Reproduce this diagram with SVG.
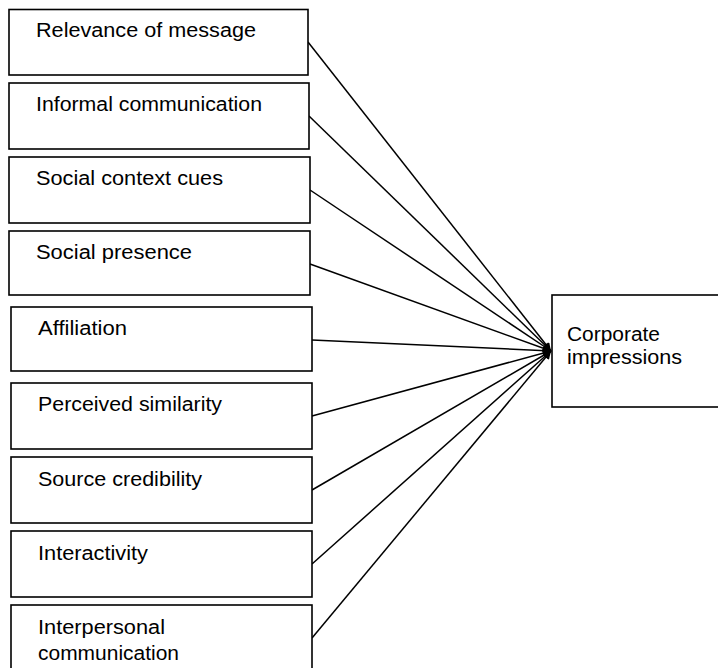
<svg xmlns="http://www.w3.org/2000/svg" width="718" height="668" viewBox="0 0 718 668">
<style>
.box{fill:#fff;stroke:#000;stroke-width:1.6}
.t{font-family:"Liberation Sans",Arial,sans-serif;font-size:20px;fill:#000}
.c{stroke:#000;stroke-width:1.5;fill:none;marker-end:url(#ah)}
</style>
<defs>
<marker id="ah" viewBox="0 0 10 10" refX="10" refY="5" markerWidth="10" markerHeight="8" markerUnits="userSpaceOnUse" orient="auto">
<path d="M0,0 L10,5 L0,10 z" fill="#000"/>
</marker>
</defs>
<rect width="718" height="668" fill="#fff"/>
<g id="connectors">
<line class="c" x1="308" y1="42" x2="551" y2="351"/>
<line class="c" x1="309" y1="116" x2="551" y2="351"/>
<line class="c" x1="310" y1="190" x2="551" y2="351"/>
<line class="c" x1="310" y1="264" x2="551" y2="351"/>
<line class="c" x1="312" y1="340" x2="551" y2="351"/>
<line class="c" x1="312" y1="416" x2="551" y2="351"/>
<line class="c" x1="312" y1="490" x2="551" y2="351"/>
<line class="c" x1="312" y1="564" x2="551" y2="351"/>
<line class="c" x1="312" y1="638" x2="551" y2="351"/>
</g>
<g id="n1"><rect class="box" x="9" y="9.5" width="299" height="65.5"/><text class="t" x="36" y="37" textLength="220" lengthAdjust="spacingAndGlyphs">Relevance of message</text></g>
<g id="n2"><rect class="box" x="9" y="83" width="300" height="66"/><text class="t" x="36" y="111" textLength="226" lengthAdjust="spacingAndGlyphs">Informal communication</text></g>
<g id="n3"><rect class="box" x="9" y="157" width="301" height="66"/><text class="t" x="36" y="185" textLength="187" lengthAdjust="spacingAndGlyphs">Social context cues</text></g>
<g id="n4"><rect class="box" x="9" y="231" width="301" height="64"/><text class="t" x="36" y="259" textLength="156" lengthAdjust="spacingAndGlyphs">Social presence</text></g>
<g id="n5"><rect class="box" x="11" y="307" width="301" height="64"/><text class="t" x="38" y="335" textLength="89" lengthAdjust="spacingAndGlyphs">Affiliation</text></g>
<g id="n6"><rect class="box" x="11" y="383" width="301" height="66"/><text class="t" x="38" y="411" textLength="184" lengthAdjust="spacingAndGlyphs">Perceived similarity</text></g>
<g id="n7"><rect class="box" x="11" y="457" width="301" height="66"/><text class="t" x="38" y="486" textLength="164" lengthAdjust="spacingAndGlyphs">Source credibility</text></g>
<g id="n8"><rect class="box" x="11" y="531" width="301" height="66"/><text class="t" x="38" y="560" textLength="110" lengthAdjust="spacingAndGlyphs">Interactivity</text></g>
<g id="n9"><rect class="box" x="11" y="605" width="301" height="70"/><text class="t" x="38" y="634" textLength="127" lengthAdjust="spacingAndGlyphs">Interpersonal</text><text class="t" x="38" y="660" textLength="141" lengthAdjust="spacingAndGlyphs">communication</text></g>
<g id="n10"><rect class="box" x="552" y="295" width="175" height="112"/><text class="t" x="567" y="341" textLength="93" lengthAdjust="spacingAndGlyphs">Corporate</text><text class="t" x="567" y="364" textLength="115" lengthAdjust="spacingAndGlyphs">impressions</text></g>
</svg>
